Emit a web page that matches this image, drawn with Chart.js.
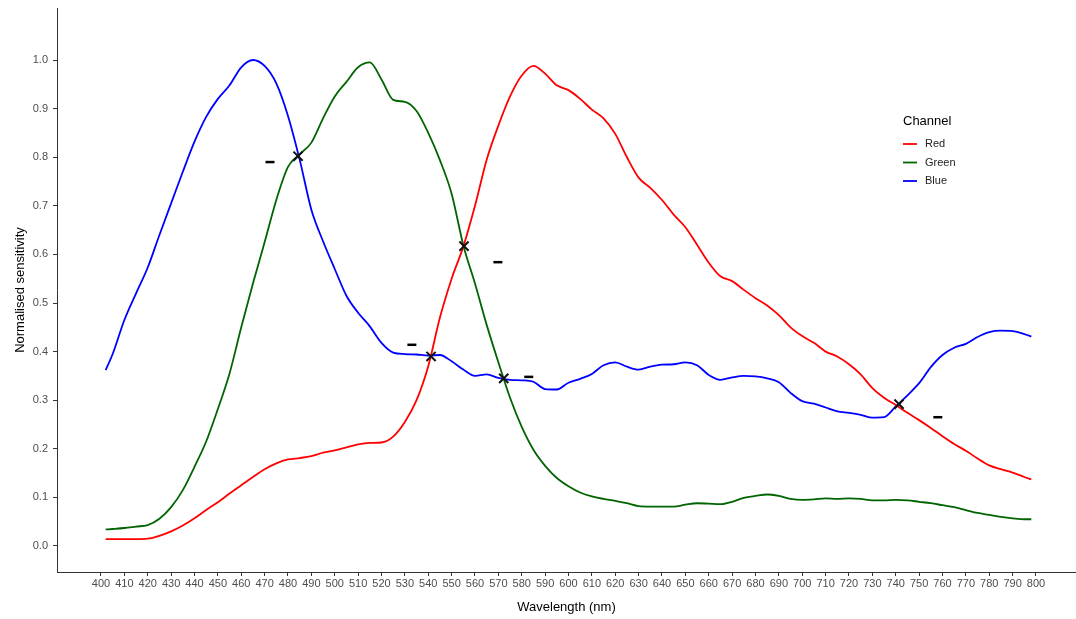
<!DOCTYPE html>
<html>
<head>
<meta charset="utf-8">
<script src="https://cdn.jsdelivr.net/npm/chart.js@4"></script>
<style>
  html, body { margin: 0; padding: 0; background: #fff; }
  #wrap { width: 1076px; height: 619px; position: relative; }
</style>
</head>
<body>
<div id="wrap"><canvas id="chart"></canvas></div>
<script>
// wavelengths (nm)
const wavelengths = [402,405,410,415,420,425,430,435,440,445,450,455,460,465,470,475,480,485,490,495,
  500,505,510,515,520,525,530,535,540,545,550,555,560,565,570,575,580,585,590,595,
  600,605,610,615,620,625,630,635,640,645,650,655,660,665,670,675,680,685,690,695,
  700,705,710,715,720,725,730,735,740,745,750,755,760,765,770,775,780,785,790,795,798];

const red = [0.014,0.014,0.014,0.014,0.015,0.021,0.030,0.042,0.057,0.074,0.090,0.108,0.125,0.142,0.158,0.170,0.178,0.181,0.185,0.192,
  0.197,0.203,0.209,0.212,0.213,0.225,0.255,0.300,0.370,0.470,0.550,0.616,0.700,0.795,0.865,0.925,0.968,0.988,0.972,0.948,
  0.938,0.920,0.898,0.880,0.848,0.800,0.758,0.737,0.712,0.682,0.656,0.620,0.583,0.555,0.545,0.527,0.510,0.495,0.475,0.450,
  0.432,0.418,0.400,0.390,0.374,0.353,0.325,0.305,0.290,0.274,0.259,0.243,0.226,0.210,0.196,0.180,0.166,0.158,0.151,0.142,0.137];

const green = [0.034,0.035,0.037,0.040,0.043,0.056,0.080,0.115,0.163,0.215,0.282,0.355,0.450,0.540,0.625,0.712,0.780,0.806,0.830,0.880,
  0.925,0.955,0.985,0.995,0.960,0.918,0.914,0.895,0.850,0.794,0.725,0.619,0.540,0.455,0.378,0.305,0.245,0.198,0.165,0.140,
  0.123,0.110,0.102,0.097,0.093,0.088,0.082,0.081,0.081,0.081,0.085,0.088,0.087,0.086,0.091,0.099,0.103,0.106,0.103,0.097,
  0.095,0.096,0.098,0.097,0.098,0.097,0.094,0.094,0.095,0.094,0.091,0.088,0.084,0.080,0.074,0.068,0.064,0.060,0.057,0.055,0.055];

const blue = [0.362,0.395,0.465,0.520,0.573,0.640,0.705,0.770,0.832,0.883,0.920,0.948,0.985,1.000,0.988,0.952,0.885,0.795,0.692,0.627,
  0.570,0.515,0.480,0.452,0.418,0.398,0.395,0.394,0.392,0.393,0.380,0.363,0.350,0.353,0.346,0.342,0.341,0.338,0.323,0.322,
  0.336,0.344,0.354,0.372,0.378,0.369,0.363,0.369,0.373,0.374,0.378,0.372,0.352,0.342,0.347,0.350,0.349,0.345,0.337,0.315,
  0.298,0.293,0.285,0.277,0.274,0.270,0.264,0.265,0.287,0.310,0.335,0.368,0.393,0.408,0.416,0.430,0.440,0.443,0.442,0.436,0.431];

// curve crossings
const crossX = [484.3, 541.2, 555.3, 572.3, 741.4];
const crossY = [0.802, 0.390, 0.617, 0.345, 0.292];

// stray label fragments
const dashX = [472.3, 533.0, 569.8, 583.0, 758.0];
const dashY = [0.790, 0.414, 0.584, 0.348, 0.265];

const xTicks = [400,410,420,430,440,450,460,470,480,490,500,510,520,530,540,550,560,570,580,590,
  600,610,620,630,640,650,660,670,680,690,700,710,720,730,740,750,760,770,780,790,800];
const yTicks = [0,0.1,0.2,0.3,0.4,0.5,0.6,0.7,0.8,0.9,1.0];

const channels = ['Red', 'Green', 'Blue'];
const colours = ['#ff0000', '#006400', '#0000ff'];

const pts = (xs, ys) => xs.map((x, i) => ({x: x, y: ys[i]}));

const legendPlugin = {
  id: 'channelLegend',
  afterDraw(chart) {
    const ctx = chart.ctx;
    ctx.save();
    ctx.fillStyle = '#000';
    ctx.font = '13px "Liberation Sans", Arial, sans-serif';
    ctx.textBaseline = 'middle';
    ctx.fillText('Channel', 903, 121);
    ctx.font = '11px "Liberation Sans", Arial, sans-serif';
    channels.forEach((c, i) => {
      const y = 144 + i * 18.5;
      ctx.strokeStyle = colours[i];
      ctx.lineWidth = 1.8;
      ctx.beginPath();
      ctx.moveTo(903, y);
      ctx.lineTo(917, y);
      ctx.stroke();
      ctx.fillStyle = '#222';
      ctx.fillText(c, 925, y);
    });
    ctx.restore();
  }
};

const lineSet = (label, ys, col) => ({
  label: label,
  data: pts(wavelengths, ys),
  borderColor: col,
  backgroundColor: col,
  borderWidth: 1.8,
  pointRadius: 0,
  pointHoverRadius: 0,
  cubicInterpolationMode: 'monotone'
});

const noPad = (s) => { s.paddingLeft = 0; s.paddingRight = 0; s.paddingTop = 0; s.paddingBottom = 0; };

const chart = new Chart(document.getElementById('chart'), {
  type: 'line',
  data: {
    datasets: [
      lineSet('Red', red, colours[0]),
      lineSet('Green', green, colours[1]),
      lineSet('Blue', blue, colours[2]),
      { type: 'scatter', label: 'crossings', data: pts(crossX, crossY), order: -1,
        pointStyle: 'crossRot', pointRadius: 6.5, pointHoverRadius: 6.5, borderColor: '#111', borderWidth: 2, showLine: false },
      { type: 'scatter', label: 'dashes', data: pts(dashX, dashY), order: -1,
        pointStyle: 'line', pointRadius: 4.5, pointHoverRadius: 4.5, borderColor: '#000', borderWidth: 2.5, showLine: false }
    ]
  },
  options: {
    responsive: true,
    maintainAspectRatio: false,
    animation: false,
    layout: { padding: { top: 8, right: 0, left: 0, bottom: 0 } },
    plugins: { legend: { display: false }, tooltip: { enabled: false } },
    scales: {
      x: {
        type: 'linear',
        min: 381.18, max: 817.12,
        afterBuildTicks: (s) => { s.ticks = xTicks.map(v => ({value: v})); },
        afterFit: (s) => { s.height = 47; noPad(s); },
        border: { display: true, color: '#333', width: 1 },
        grid: { display: true, drawOnChartArea: false, drawTicks: true, tickLength: 4, color: '#333' },
        ticks: { color: '#4d4d4d', font: { family: '"Liberation Sans", Arial, sans-serif', size: 11 },
                 padding: 1, maxRotation: 0, autoSkip: false, callback: (v) => String(v) },
        title: { display: true, text: 'Wavelength (nm)', color: '#000',
                 font: { family: '"Liberation Sans", Arial, sans-serif', size: 13 }, padding: { top: 4, bottom: 4 } }
      },
      y: {
        type: 'linear',
        min: -0.0535, max: 1.107,
        afterBuildTicks: (s) => { s.ticks = yTicks.map(v => ({value: v})); },
        afterFit: (s) => { s.width = 57; noPad(s); },
        border: { display: true, color: '#333', width: 1 },
        grid: { display: true, drawOnChartArea: false, drawTicks: true, tickLength: 4, color: '#333' },
        ticks: { color: '#4d4d4d', font: { family: '"Liberation Sans", Arial, sans-serif', size: 11 },
                 padding: 5, callback: (v) => Number(v).toFixed(1) },
        title: { display: true, text: 'Normalised sensitivity', color: '#000',
                 font: { family: '"Liberation Sans", Arial, sans-serif', size: 13 }, padding: { top: 13, bottom: 4 } }
      }
    }
  },
  plugins: [legendPlugin]
});

// markers near the plot edge should not shrink the plot area
chart.data.datasets.forEach((d, i) => { chart.getDatasetMeta(i).controller.getMaxOverflow = () => 0; });
chart.update();
</script>
</body>
</html>
